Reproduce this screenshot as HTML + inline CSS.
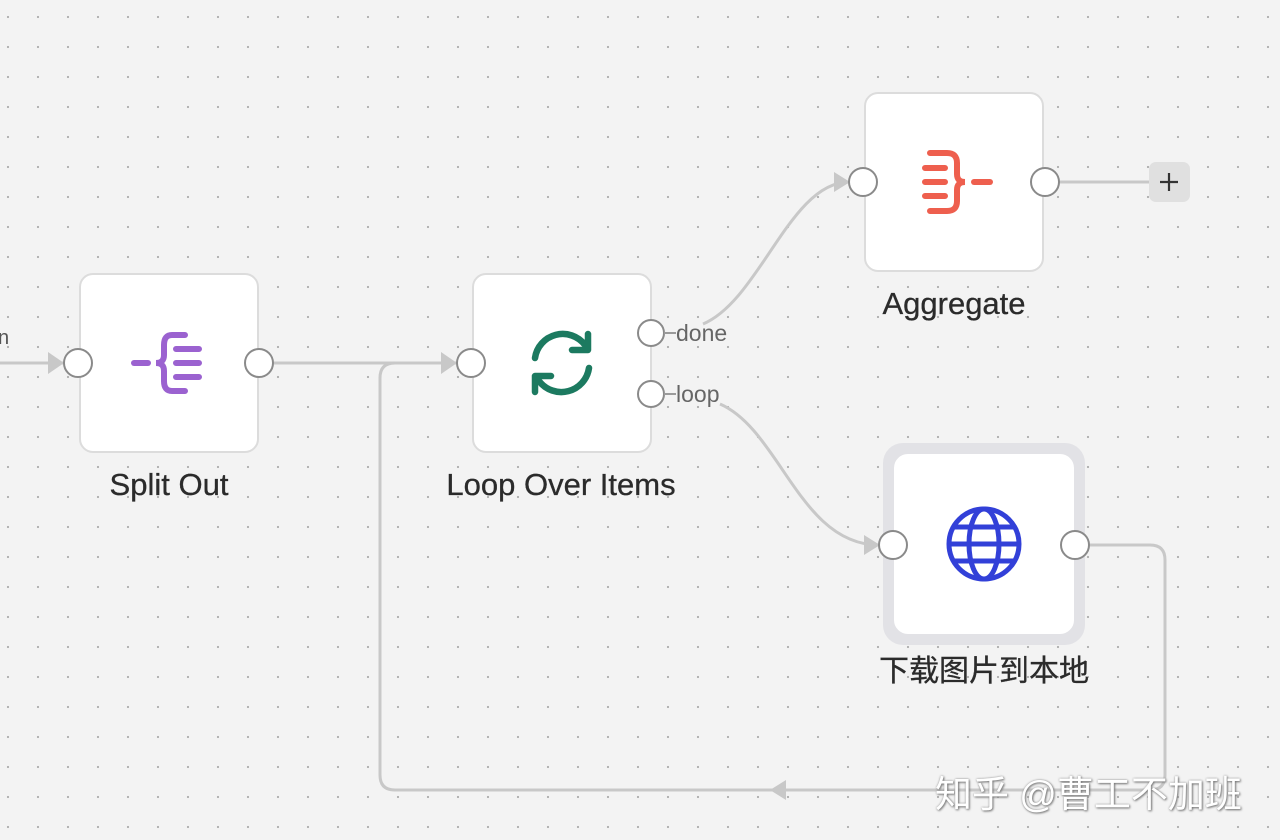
<!DOCTYPE html>
<html><head><meta charset="utf-8"><style>
html,body{margin:0;padding:0}
body{width:1280px;height:840px;overflow:hidden;position:relative;background-color:#f3f3f3;
background-image:radial-gradient(circle,#b0b0b0 1px,transparent 1.3px);background-size:30px 30px;background-position:-7px 2px;
font-family:"Liberation Sans","Noto Sans CJK SC",sans-serif}
.node{position:absolute;width:176px;height:176px;background:#fff;border:2px solid #dcdcdc;border-radius:14px;box-sizing:content-box}
.lbl{position:absolute;font-size:31px;color:#2b2b2b;transform:translateX(-50%);white-space:nowrap;-webkit-text-stroke:0.3px #2b2b2b}
svg{position:absolute;left:0;top:0}
</style></head><body>
<svg width="1280" height="840">
<g fill="none" stroke="#c8c8c8" stroke-width="3">
<path d="M0 363 H64"/>
<path d="M273 363 H457"/>
<path d="M1089 545 H1150 Q1165 545 1165 560 V775 Q1165 790 1150 790 H395 Q380 790 380 775 V378 Q380 363 395 363 H457"/>
<path d="M703 324 C760 300 790 182 849 182"/>
<path d="M720 404 C780 430 800 545 879 545"/>
<path d="M1059 182 H1150"/>
</g>
<g fill="#c8c8c8">
<path d="M48 352 L64 363 L48 374Z"/>
<path d="M441 352 L457 363 L441 374Z"/>
<path d="M834 172 L850 182 L834 192Z"/>
<path d="M864 535 L880 545 L864 555Z"/>
<path d="M770 790 L786 780 L786 800Z"/>
</g>
</svg>
<div class="node" style="left:79px;top:273px"></div>
<div class="node" style="left:472px;top:273px"></div>
<div class="node" style="left:864px;top:92px"></div>
<div style="position:absolute;left:883px;top:443px;width:202px;height:202px;border-radius:20px;background:#e2e2e6"></div>
<div class="node" style="left:894px;top:454px;border-color:#fff"></div>
<svg width="1280" height="840">
<g fill="#fff" stroke="#8a8a8a" stroke-width="2">
<circle cx="78" cy="363" r="14"/><circle cx="259" cy="363" r="14"/>
<circle cx="471" cy="363" r="14"/><circle cx="651" cy="333" r="13"/><circle cx="651" cy="394" r="13"/>
<circle cx="863" cy="182" r="14"/><circle cx="1045" cy="182" r="14"/>
<circle cx="893" cy="545" r="14"/><circle cx="1075" cy="545" r="14"/>
</g>
<g stroke="#9a9a9a" stroke-width="2"><path d="M664 333 H676"/><path d="M664 394 H676"/></g>
<text x="676" y="341" font-size="23" fill="#666" font-family="Liberation Sans">done</text>
<text x="676" y="402" font-size="23" fill="#666" font-family="Liberation Sans">loop</text>
<rect x="1149" y="162" width="41" height="40" rx="7" fill="#e0e0e0"/>
<path d="M1169 173 V191 M1160 182 H1178" stroke="#333" stroke-width="2.2"/>
<g stroke="#9b62d0" stroke-width="6" stroke-linecap="round" fill="none">
<path d="M134 363 H148"/>
<path d="M185 335 H172 Q164 335 164 345 V355 Q164 363 156 363 Q164 363 164 371 V381 Q164 391 172 391 H185"/>
<path d="M176 349 H199 M176 363 H199 M176 377 H199"/>
</g>
<g stroke="#ee5f4e" stroke-width="6" stroke-linecap="round" fill="none">
<path d="M925 168 H945 M925 182 H945 M925 196 H945"/>
<path d="M930 153 H947 Q957 153 957 163 V174 Q957 182 965 182 Q957 182 957 190 V201 Q957 211 947 211 H930"/>
<path d="M974 182 H990"/>
</g>
<g stroke="#1c7a60" stroke-width="6.5" stroke-linecap="round" stroke-linejoin="round" fill="none">
<path d="M535 358 A28 28 0 0 1 585 345"/><path d="M588 334 V350 H572"/>
<path d="M589 368 A28 28 0 0 1 539 381"/><path d="M535 392 V376 H551"/>
</g>
<g stroke="#3240d8" stroke-width="5" fill="none">
<circle cx="984" cy="544" r="35"/><ellipse cx="984" cy="544" rx="15" ry="35"/>
<path d="M949 544 H1019 M954 527 H1014 M954 561 H1014"/>
</g>
</svg>
<div class="lbl" style="left:169px;top:467px">Split Out</div>
<div class="lbl" style="left:561px;top:467px">Loop Over Items</div>
<div class="lbl" style="left:954px;top:286px">Aggregate</div>
<div class="lbl" style="left:984px;top:646px;font-size:30px">下载图片到本地</div>
<div style="position:absolute;left:935px;top:764px;font-size:37px;color:#fff;text-shadow:1px 1px 2px #777,0 0 2px #999;white-space:nowrap">知乎 @曹工不加班</div>
<div style="position:absolute;left:-2px;top:327px;font-size:20px;color:#555">n</div>
</body></html>
